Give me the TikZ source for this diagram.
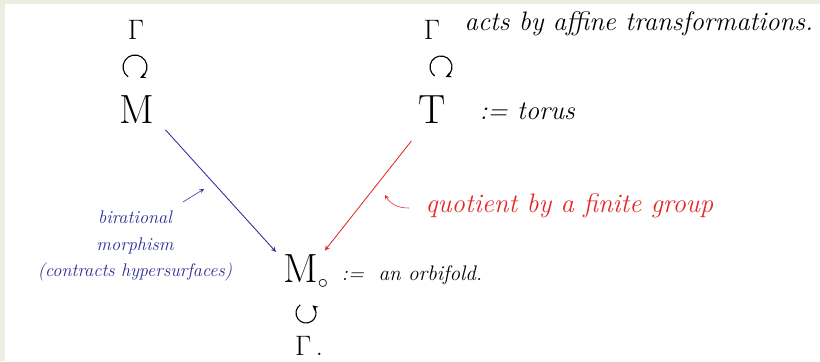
\RequirePackage{fix-cm}
\documentclass[tikz,border=0pt]{standalone}
\usepackage{fontspec}
\usetikzlibrary{positioning,calc}
\definecolor{inkblue}{RGB}{45,45,150}
\definecolor{inkred}{RGB}{228,40,40}
\definecolor{paper}{RGB}{237,238,226}
\begin{document}
\begin{tikzpicture}[
    x=0.025cm, y=0.025cm,
    every node/.style={inner sep=1pt},
    space/.style={font=\fontsize{29}{30}\selectfont},
    group/.style={font=\fontsize{20}{22}\selectfont},
    remark/.style={font=\fontsize{19}{22}\selectfont\itshape, anchor=base west},
    smallremark/.style={font=\fontsize{15}{18}\selectfont\itshape, anchor=base west},
    bluenote/.style={font=\fontsize{13}{19}\selectfont\itshape, text=inkblue, align=center},
    rednote/.style={font=\fontsize{19}{22}\selectfont\itshape, text=inkred, anchor=base west},
    action/.style={->, >=stealth, thick},
    map/.style={->, >=stealth, semithick},
    pointer/.style={->, >=stealth, thin}
]
% -------------------------
% Paper
% -------------------------
    \fill[paper] (0,0) rectangle (820,-361);
    \fill[white] (5,-4) rectangle (820,-361);
    \useasboundingbox (0,0) rectangle (820,-361);

% -------------------------
% Left column: Gamma acting on M
% -------------------------
    \node[group] (gammaM) at (136,-30) {$\Gamma$};
    \node[space] (M) at (137,-110) {M};
    % action symbol
    \draw[action] (135,-67) ++(235:12) arc[start angle=235, end angle=-65, radius=12];

% -------------------------
% Right column: Gamma acting on the torus
% -------------------------
    \node[group] (gammaT) at (432,-30) {$\Gamma$};
    \node[remark] (affine) at (463,-31) {acts by affine transformations.};
    \node[space] (T) at (432,-110) {T};
    \node[remark] (torus) at (478,-119) {:=\ torus};
    % action symbol
    \draw[action] (441,-67) ++(235:11) arc[start angle=235, end angle=-65, radius=11];

% -------------------------
% Bottom: the orbifold M_0
% -------------------------
    \node[space] (M0) at (306,-272) {M$_{\scriptscriptstyle\circ}$};
    \node[smallremark] (orbifold) at (340,-280) {:=\ \ an orbifold.};
    \node[group] (gammaO) at (309,-346) {$\Gamma$\,.};
    % action symbol
    \draw[action] (306,-313) ++(125:10) arc[start angle=125, end angle=410, radius=10];

% -------------------------
% Maps and their labels
% -------------------------
    \draw[map, inkblue, shorten <=4pt] ([xshift=4pt]M.south east) -- ([xshift=-4pt,yshift=1pt]M0.north west);
    \draw[map, inkred, shorten <=14pt] ([xshift=-6pt]T.south) -- ([xshift=-4pt,yshift=2pt]M0.north east);

    \node[bluenote] (birational) at (135,-246) {birational\\ morphism\\ (contracts hypersurfaces)};
    \coordinate (bluetip) at (204,-189);
    \draw[pointer, inkblue] (183,-202) -- (bluetip);

    \node[rednote] (quotient) at (424,-212) {quotient by a finite group};
    \coordinate (redtip) at (385,-195);
    \draw[pointer, inkred] (409,-208) to[bend left=30] (redtip);
\end{tikzpicture}
\end{document}
